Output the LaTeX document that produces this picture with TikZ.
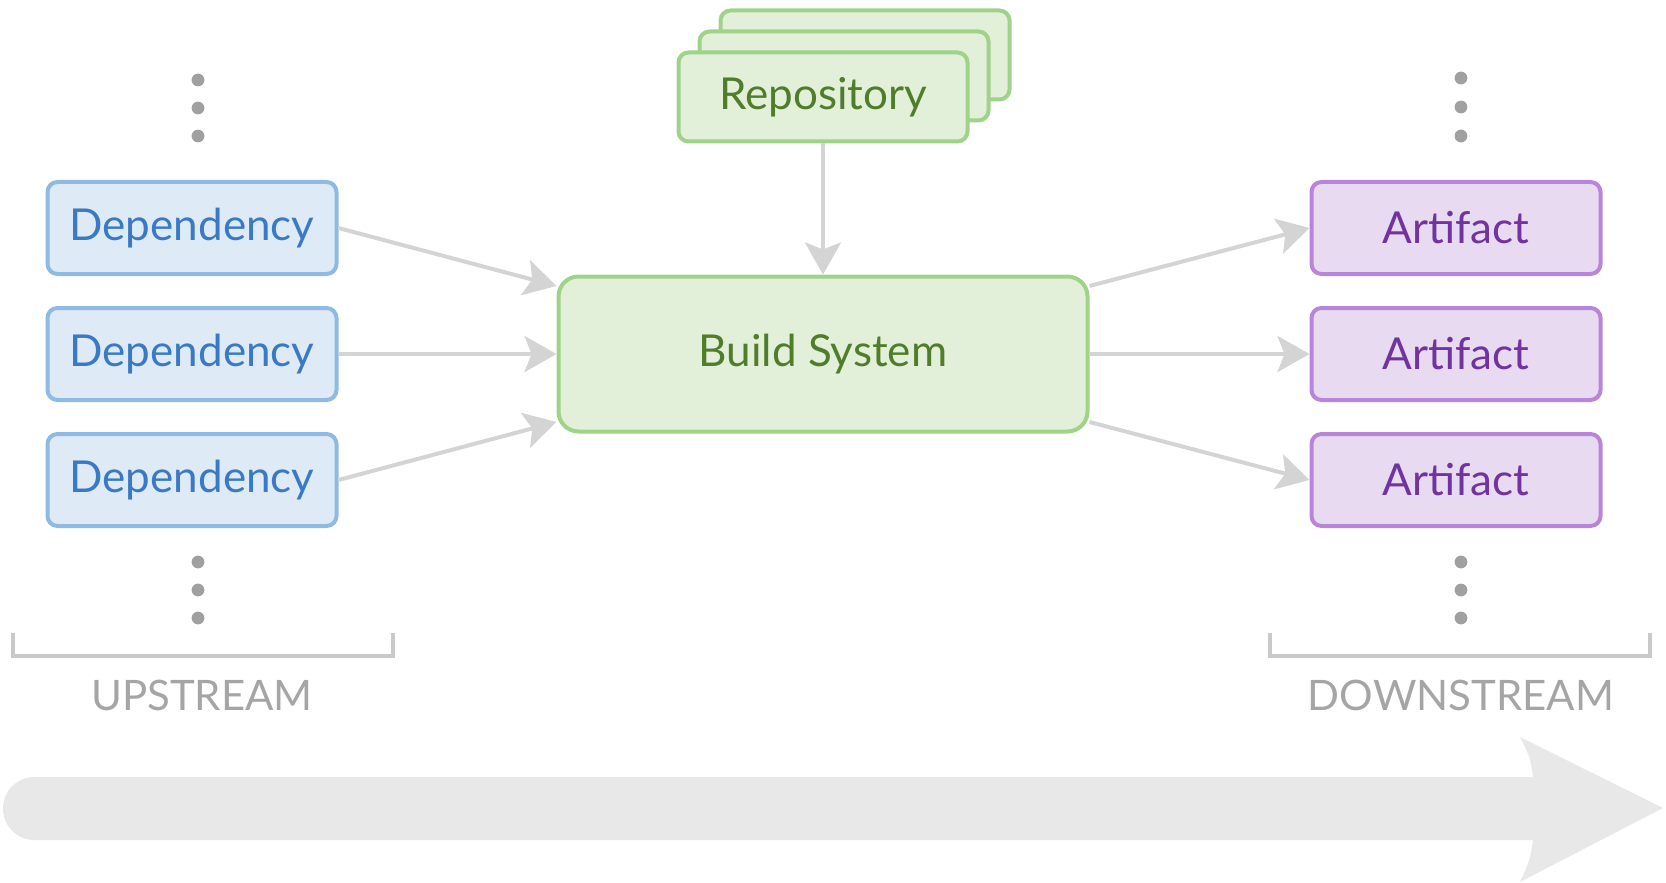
\documentclass[tikz,border=0pt]{standalone}
\usepackage{fontspec}
\setmainfont{Lato}
\usetikzlibrary{arrows.meta,positioning}

\definecolor{depfill}{HTML}{DEEAF6}
\definecolor{depline}{HTML}{8EBAE3}
\definecolor{deptext}{HTML}{3A7AC4}
\definecolor{buildfill}{HTML}{E2EFD9}
\definecolor{buildline}{HTML}{9FD38A}
\definecolor{buildtext}{HTML}{507D2A}
\definecolor{artfill}{HTML}{E8DAF1}
\definecolor{artline}{HTML}{B985DA}
\definecolor{arttext}{HTML}{7133A0}
\definecolor{linkgray}{HTML}{D4D4D4}
\definecolor{dotgray}{HTML}{A0A0A0}
\definecolor{bracketgray}{HTML}{C9C9C9}
\definecolor{labelgray}{HTML}{A5A5A5}
\definecolor{flowgray}{HTML}{E8E8E8}

\tikzset{
  box/.style={rectangle, rounded corners=5pt, line width=2pt, minimum width=144.5pt, minimum height=46pt, inner sep=0pt, font=\fontsize{22}{26}\selectfont},
  depbox/.style={box, draw=depline, fill=depfill, text=deptext},
  artbox/.style={box, draw=artline, fill=artfill, text=arttext},
  repobox/.style={box, draw=buildline, fill=buildfill, text=buildtext, minimum height=44.5pt},
  buildbox/.style={box, rounded corners=10pt, draw=buildline, fill=buildfill, text=buildtext, minimum width=264.5pt, minimum height=77.5pt},
  link/.style={-{Stealth[length=16pt,width=18pt,inset=3.5pt]}, draw=linkgray, line width=2pt},
  bracket/.style={draw=bracketgray, line width=1.6pt},
  streamlabel/.style={text=labelgray, font=\fontsize{21}{25}\selectfont, anchor=base},
}

\begin{document}
\begin{tikzpicture}[x=0.5pt,y=-0.5pt]
  \useasboundingbox (0,0) rectangle (1666,883);
  % flow arrow at the bottom
  \fill[flowgray] (34.5,808.5) circle (15.75pt);
  \fill[flowgray] (34.5,777) -- (1533,777) .. controls (1530,757) .. (1520,737) -- (1663,808)
    -- (1520,882) .. controls (1530,860) .. (1533,840) -- (34.5,840) -- cycle;

  \node[buildbox] (build) at (823,354) {Build System};
  \node[depbox, left=109pt of build] (dep2) {Dependency};
  \node[depbox, above=15pt of dep2] (dep1) {Dependency};
  \node[depbox, below=15pt of dep2] (dep3) {Dependency};
  \node[artbox, right=110pt of build] (art2) {Artifact};
  \node[artbox, above=15pt of art2] (art1) {Artifact};
  \node[artbox, below=15pt of art2] (art3) {Artifact};

  % stacked repositories
  \node[repobox] (repo3) at (865,55) {};
  \node[repobox] (repo2) at (844,76) {};
  \node[repobox] (repo) at (823,97) {Repository};

  \draw[link] (repo) -- (build);
  \draw[link] (dep1.east) -- ([yshift=34pt]build.west);
  \draw[link] (dep2) -- (build);
  \draw[link] (dep3.east) -- ([yshift=-34pt]build.west);
  \draw[link] ([yshift=34pt]build.east) -- (art1.west);
  \draw[link] (build) -- (art2);
  \draw[link] ([yshift=-34pt]build.east) -- (art3.west);

  % more above and below
  \foreach \y in {80,108,136} \fill[dotgray] (198,\y) circle (3.2pt);
  \foreach \y in {562,590,618} \fill[dotgray] (198,\y) circle (3.2pt);
  \foreach \y in {78,107,136} \fill[dotgray] (1461,\y) circle (3.2pt);
  \foreach \y in {562,590,618} \fill[dotgray] (1461,\y) circle (3.2pt);

  \draw[bracket] (13,633) -- (13,656) -- (393,656) -- (393,633);
  \draw[bracket] (1270,633) -- (1270,656) -- (1650,656) -- (1650,633);
  \node[streamlabel] (up) at (202,710) {UPSTREAM};
  \node[streamlabel] (down) at (1461,710) {DOWNSTREAM};
\end{tikzpicture}
\end{document}
